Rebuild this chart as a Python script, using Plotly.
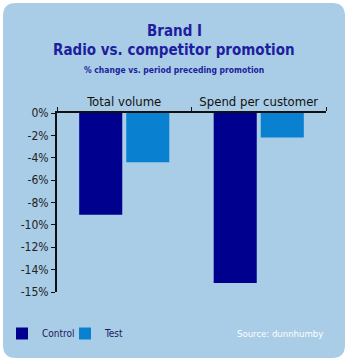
import plotly.graph_objects as go

categories = ["Total volume", "Spend per customer"]
control = [-9.1, -15.2]
test = [-4.4, -2.2]
tick_vals = [0, -2, -4, -6, -8, -10, -12, -14, -16]
tick_text = ["0%", "-2%", "-4%", "-6%", "-8%", "-10%", "-12%", "-14%", "-15%"]

W, H = 348, 364
L, R, T, B = 57, 326, 113, 292
FONT = "DejaVu Sans Condensed, sans-serif"

def px(x):
    return (x - L) / (R - L)

def py(y):
    return (B - y) / (B - T)

# rounded panel path in paper coords
x0, x1, y0, y1, r = 3, 345, 3, 358, 13
path = (f"M {px(x0+r)},{py(y0)} L {px(x1-r)},{py(y0)} Q {px(x1)},{py(y0)} {px(x1)},{py(y0+r)} "
        f"L {px(x1)},{py(y1-r)} Q {px(x1)},{py(y1)} {px(x1-r)},{py(y1)} "
        f"L {px(x0+r)},{py(y1)} Q {px(x0)},{py(y1)} {px(x0)},{py(y1-r)} "
        f"L {px(x0)},{py(y0+r)} Q {px(x0)},{py(y0)} {px(x0+r)},{py(y0)} Z")

fig = go.Figure()
fig.add_trace(go.Bar(x=categories, y=control, name="Control", marker_color="#00008f",
                     marker_line_width=0))
fig.add_trace(go.Bar(x=categories, y=test, name="Test", marker_color="#0a80d0",
                     marker_line_width=0))

fig.update_layout(
    width=W, height=H,
    margin=dict(l=L, r=W - R, t=T, b=H - B, autoexpand=False),
    paper_bgcolor="white",
    plot_bgcolor="rgba(0,0,0,0)",
    barmode="group",
    bargap=0.30,
    bargroupgap=0.085,
    showlegend=True,
    legend=dict(orientation="h", x=px(2), y=py(319), xanchor="left", yanchor="top",
                font=dict(family=FONT, size=10, color="#1a1a60"),
                bgcolor="rgba(0,0,0,0)", entrywidth=18, entrywidthmode="pixels",
                traceorder="normal"),
    font=dict(family=FONT),
    shapes=[dict(type="path", path=path, xref="paper", yref="paper",
                 fillcolor="#a9cde6", line=dict(width=0), layer="below")],
    annotations=[
        dict(text="<b>Brand I</b>", x=px(174), y=py(31), xref="paper", yref="paper",
             yanchor="middle", showarrow=False, font=dict(family=FONT, size=15, color="#1e1ea0")),
        dict(text="<b>Radio vs. competitor promotion</b>", x=px(174), y=py(50), xref="paper",
             yref="paper", yanchor="middle", showarrow=False,
             font=dict(family=FONT, size=15, color="#1e1ea0")),
        dict(text="<b>% change vs. period preceding promotion</b>", x=px(174), y=py(70),
             xref="paper", yref="paper", yanchor="middle", showarrow=False,
             font=dict(family=FONT, size=8.5, color="#1e1ea0")),
        dict(text="Source: dunnhumby", x=px(325), y=py(333), xref="paper", yref="paper",
             xanchor="right", yanchor="middle", showarrow=False,
             font=dict(family=FONT, size=9.5, color="white")),
    ],
)

fig.update_xaxes(side="top", showline=True, linecolor="#111", linewidth=1.5,
                 ticks="outside", tickson="boundaries", ticklen=4, tickcolor="#111",
                 tickfont=dict(family=FONT, size=13, color="#111"), showgrid=False,
                 zeroline=False, fixedrange=True)
fig.update_yaxes(range=[-16, 0], tickvals=tick_vals, ticktext=tick_text,
                 showline=True, linecolor="#111", linewidth=2, ticks="outside",
                 ticklen=4, tickcolor="#111", tickfont=dict(family=FONT, size=12, color="#222"),
                 showgrid=False, zeroline=False, fixedrange=True)

fig.write_html("out.html")
